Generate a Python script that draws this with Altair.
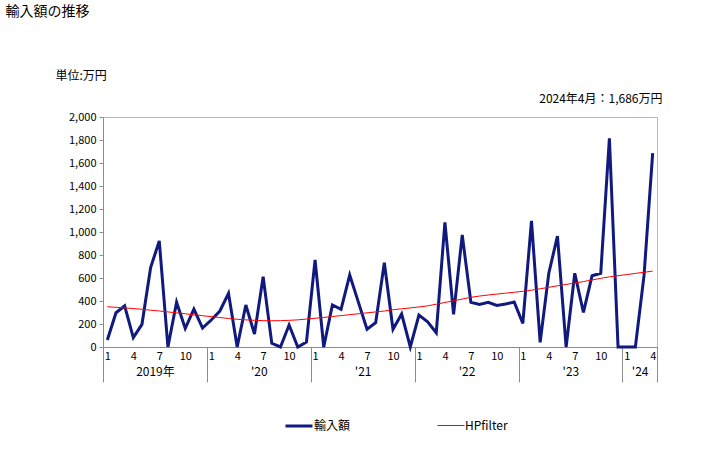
import altair as alt
import pandas as pd

# ---------------- data ----------------
year_list = [2019, 2020, 2021, 2022, 2023, 2024]
months_per_year = [12, 12, 12, 12, 12, 4]

imports = [
    # 2019
    61, 298, 357, 81, 197, 690, 922, 0, 389, 162, 330, 165,
    # 2020
    235, 313, 467, 0, 365, 113, 611, 32, 0, 191, 0, 43,
    # 2021
    757, 0, 365, 328, 626, 390, 154, 212, 733, 154, 287, 0,
    # 2022
    278, 220, 124, 1084, 284, 974, 389, 371, 389, 362, 374, 391,
    # 2023
    206, 1096, 40, 641, 965, 0, 641, 301, 620, 641, 1815, 0,
    # 2024
    0, 0, 620, 1686,
]

hpfilter = [
    # 2019
    350, 345, 340, 334, 328, 320, 313, 305, 297, 289, 280, 272,
    # 2020
    264, 256, 248, 241, 236, 232, 229, 228, 229, 232, 236, 243,
    # 2021
    250, 257, 265, 273, 281, 289, 297, 305, 313, 324, 332, 340,
    # 2022
    348, 358, 372, 387, 402, 417, 432, 443, 452, 460, 468, 476,
    # 2023
    484, 494, 506, 519, 532, 544, 556, 569, 583, 597, 610, 620,
    # 2024
    630, 640, 650, 660,
]

year_labels = ["2019年", "'20", "'21", "'22", "'23", "'24"]
month_label_set = [1, 4, 7, 10]
series_names = ["輸入額", "HPfilter"]
series_colors = ["#101a7e", "#ff0000"]
series_widths = [3, 1]

title_text = "輸入額の推移"
unit_text = "単位:万円"
latest_text = "2024年4月：1,686万円"

# ---------------- table ----------------
rows = []
idx = 0
for y, n in zip(year_list, months_per_year):
    for m in range(1, n + 1):
        rows.append({"i": idx, "year": y, "month": m,
                     "series": series_names[0], "value": imports[idx]})
        rows.append({"i": idx, "year": y, "month": m,
                     "series": series_names[1], "value": hpfilter[idx]})
        idx += 1
df = pd.DataFrame(rows)
n_total = idx

month_ticks = [r["i"] for r in rows[::2] if r["month"] in month_label_set]
boundaries = [-0.5]
centers = []
start = 0
for n in months_per_year:
    centers.append(start + (n - 1) / 2)
    start += n
    boundaries.append(start - 0.5)

year_expr = ""
for c, lab in zip(centers, year_labels):
    year_expr += f'datum.value < {c + 0.1} ? "{lab}" : '
year_expr += '""'

FONT = "Noto Sans CJK JP"
GREY = "#8c8c8c"
xdom = [-0.5, n_total - 0.5]
xscale = alt.Scale(domain=xdom, nice=False, zero=False)
yscale = alt.Scale(domain=[0, 2000], nice=False)

color_scale = alt.Scale(domain=series_names, range=series_colors)
width_scale = alt.Scale(domain=series_names, range=series_widths)

legend = alt.Legend(title=None, orient="none", direction="horizontal",
                    legendX=284 - 103, legendY=411 - 117,
                    symbolType="stroke", symbolSize=729,
                    labelFont=FONT, labelFontSize=12,
                    labelColor="#000", columnPadding=84, labelOffset=0)

base = alt.Chart(df)

line_main = base.transform_filter(
    alt.datum.series == series_names[0]
).mark_line(strokeJoin="miter").encode(
    x=alt.X("i:Q", scale=xscale,
            axis=alt.Axis(orient="bottom", values=month_ticks,
                          labelExpr="(datum.value % 12) + 1",
                          ticks=False, tickSize=0, labelPadding=3,
                          grid=False, domainColor=GREY, labelFont=FONT,
                          labelFontSize=11, labelColor="#000",
                          title=title_text, titleFont=FONT, titleFontSize=14,
                          titleFontWeight="normal", titleAlign="left",
                          titleBaseline="top", titleAnchor="start",
                          titleX=5 - 103, titleY=4 - 347, titleAngle=0,
                          labelFlush=False, labelOverlap=False)),
    y=alt.Y("value:Q", scale=yscale,
            axis=alt.Axis(values=list(range(0, 2001, 200)), format=",.0f",
                          grid=False, tickSize=4, tickColor=GREY,
                          domainColor=GREY, labelPadding=3,
                          labelFont=FONT, labelFontSize=11, labelColor="#000",
                          title=unit_text, titleFont=FONT, titleFontSize=12,
                          titleFontWeight="normal", titleAngle=0,
                          titleAlign="left", titleBaseline="top",
                          titleX=55 - 103, titleY=70 - 117)),
    color=alt.Color("series:N", scale=color_scale, sort=series_names,
                    legend=legend),
    strokeWidth=alt.StrokeWidth("series:N", scale=width_scale,
                                sort=series_names, legend=legend),
)

line_hp = base.transform_filter(
    alt.datum.series == series_names[1]
).mark_line().encode(
    x=alt.X("i:Q", scale=xscale,
            axis=alt.Axis(orient="bottom", values=boundaries,
                          labels=False, domain=False, ticks=True,
                          tickSize=35, tickColor=GREY, grid=False,
                          title=latest_text, titleFont=FONT, titleFontSize=12,
                          titleFontWeight="normal", titleAlign="right",
                          titleBaseline="top", titleAnchor="end",
                          titleX=662 - 103, titleY=93 - 347, titleAngle=0)),
    y=alt.Y("value:Q", scale=yscale, axis=None),
    color=alt.Color("series:N", scale=color_scale, sort=series_names,
                    legend=legend),
    strokeWidth=alt.StrokeWidth("series:N", scale=width_scale,
                                sort=series_names, legend=legend),
)

year_layer = base.transform_filter(
    alt.datum.series == series_names[1]
).mark_line(opacity=0).encode(
    x=alt.X("i:Q", scale=xscale,
            axis=alt.Axis(orient="bottom", values=centers,
                          labelExpr=year_expr, ticks=False, tickSize=0,
                          domain=False, grid=False, labelPadding=19,
                          labelFont=FONT, labelFontSize=12, labelColor="#000",
                          labelFlush=False, labelOverlap=False, title=None)),
    y=alt.Y("value:Q", scale=yscale, axis=None),
)

chart = alt.layer(line_main, line_hp, year_layer).resolve_axis(
    x="independent", y="independent"
).properties(
    width=554, height=230,
    autosize=alt.AutoSizeParams(type="none"),
    padding={"left": 103, "top": 117, "right": 71, "bottom": 103},
    background="white",
).configure_view(stroke="#c4b896", strokeWidth=1)

chart.save("out.html", embed_options={"renderer": "svg", "actions": False})
